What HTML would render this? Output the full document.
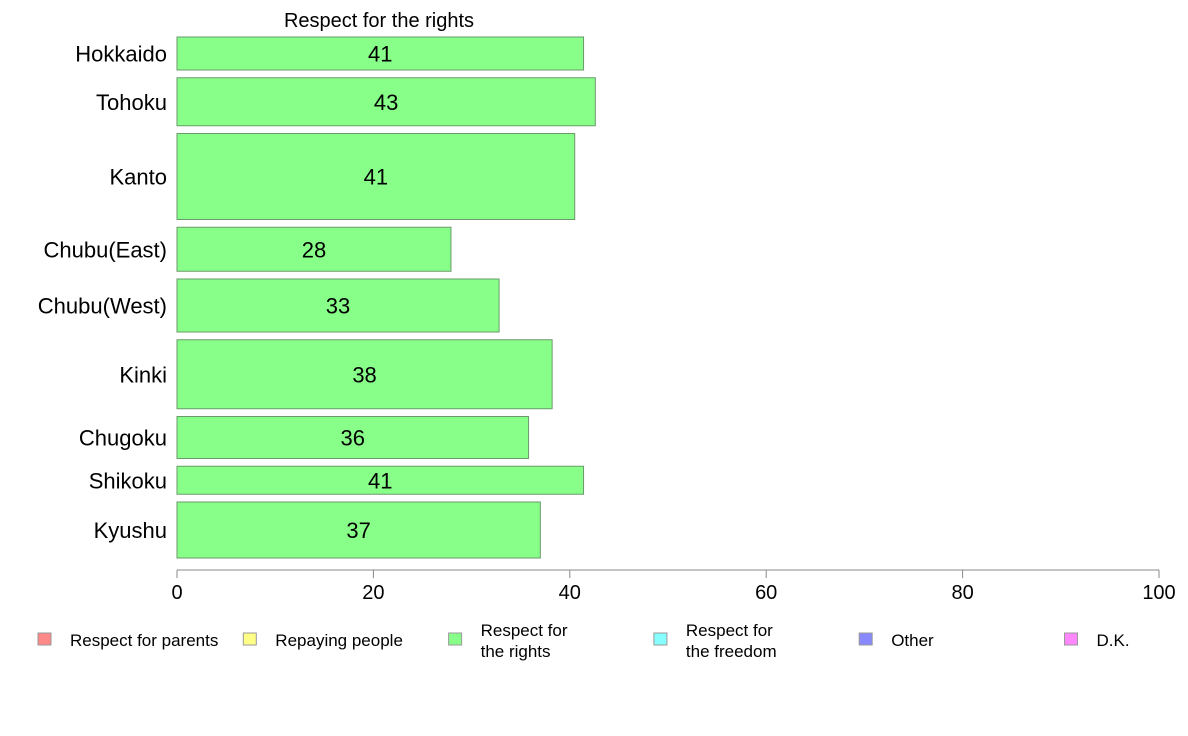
<!DOCTYPE html>
<html><head><meta charset="utf-8"><style>
body{margin:0;background:#fff;}
svg{display:block;font-family:"Liberation Sans",Arial,sans-serif;}
</style></head><body>
<svg id="chart" width="1188" height="736">
<text x="379" y="27" font-size="20" text-anchor="middle">Respect for the rights</text>
<g id="bars"></g>
<g id="axis"></g>
<g id="legend"></g>
</svg>
<script>
const regions = ["Hokkaido","Tohoku","Kanto","Chubu(East)","Chubu(West)","Kinki","Chugoku","Shikoku","Kyushu"];
const values = [41.4,42.6,40.5,27.9,32.8,38.2,35.8,41.4,37.0];
const weights = [33,48,86,44,53,69,42,28,56];
const ticks = [0,20,40,60,80,100];
const legendLabels = [["Respect for parents"],["Repaying people"],["Respect for","the rights"],["Respect for","the freedom"],["Other"],["D.K."]];
const legendColors = ["#ff8888","#ffff88","#88ff88","#88ffff","#8888ff","#ff88ff"];

const NS="http://www.w3.org/2000/svg";
const x0=177,x1=1159,yTop=37,yBot=558,gap=7.75;
const xs=v=>x0+(v/100)*(x1-x0);
const totalW=weights.reduce((a,b)=>a+b,0);
const scaleH=(yBot-yTop-gap*(weights.length-1))/totalW;
function mk(tag,attrs,parent){const e=document.createElementNS(NS,tag);for(const k in attrs)e.setAttribute(k,attrs[k]);parent.appendChild(e);return e;}
const gb=document.getElementById('bars');
let y=yTop;
regions.forEach((r,i)=>{
  const h=weights[i]*scaleH;
  const rect=mk('rect',{x:x0,y:y,width:xs(values[i])-x0,height:h,fill:'#88ff88',stroke:'#6a9a6a','stroke-width':1},gb);
  
  
  const lab=mk('text',{x:(x0+xs(values[i]))/2,y:y+h/2+8,'font-size':22,'text-anchor':'middle'},gb);
  lab.textContent=Math.round(values[i]);
  
  
  const cat=mk('text',{x:167,y:y+h/2+8,'font-size':22,'text-anchor':'end'},gb);
  cat.textContent=r;
  
  
  y+=h+gap;
});
const ga=document.getElementById('axis');
const al=mk('line',{x1:x0,x2:x1,y1:570,y2:570,stroke:'#888','stroke-width':1},ga);


ticks.forEach(t=>{
  const tl=mk('line',{x1:xs(t),x2:xs(t),y1:570,y2:578,stroke:'#888'},ga);
  
  
  const tt=mk('text',{x:xs(t),y:599,'font-size':20,'text-anchor':'middle'},ga);
  tt.textContent=t;
  
  
});
const gl=document.getElementById('legend');
legendLabels.forEach((lines,i)=>{
  const lx=38+i*205.3;
  const g=mk('g',{},gl);
  
  
  mk('rect',{x:lx,y:633,width:13,height:12,fill:legendColors[i],stroke:'#999'},g);
  lines.forEach((ln,j)=>{
    const t=mk('text',{x:lx+32,y:(lines.length===1?646:636+j*21),'font-size':17},g);
    t.textContent=ln;
  });
});
</script>
</body></html>
